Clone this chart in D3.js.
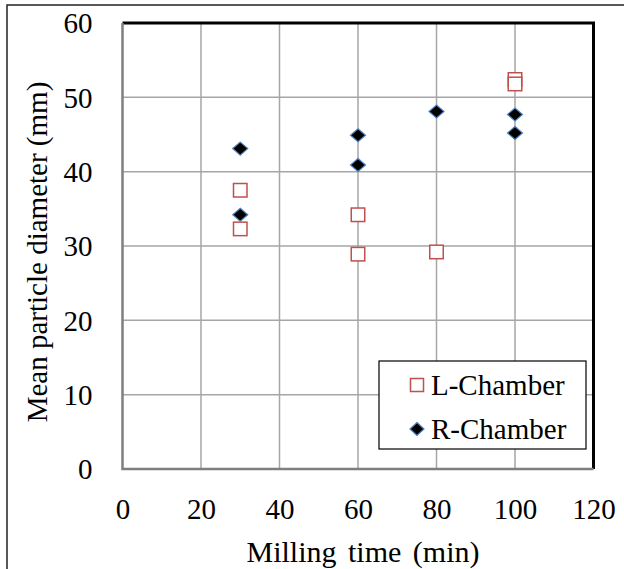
<!DOCTYPE html>
<html>
<head>
<meta charset="utf-8">
<script src="https://cdn.jsdelivr.net/npm/d3@7"></script>
<style>
html,body{margin:0;padding:0;background:#fff;}
svg{display:block;}
text{font-family:"Liberation Serif","Times New Roman",serif;fill:#000;}
</style>
</head>
<body>
<svg id="chart" width="624" height="569"></svg>
<script>
const xTicks = [0, 20, 40, 60, 80, 100, 120];
const yTicks = [0, 10, 20, 30, 40, 50, 60];
const lTime = [30, 30, 60, 60, 80, 100, 100];
const lDiameter = [37.5, 32.3, 34.2, 28.9, 29.2, 52.4, 51.8];
const rTime = [30, 30, 60, 60, 80, 100, 100];
const rDiameter = [43.1, 34.2, 44.9, 40.9, 48.1, 47.7, 45.2];
const seriesNames = ["L-Chamber", "R-Chamber"];
const xTitle = "Milling time (min)";
const yTitle = "Mean particle diameter (mm)";

(function () {
const svg = d3.select("#chart");
const pL = 122.5, pR = 593.5, pT = 23, pB = 469;
const fs = 29;

const x = d3.scaleLinear().domain([0, 120]).range([pL, pR]);
const y = d3.scaleLinear().domain([0, 60]).range([pB, pT]);

// outer border
svg.append("rect").attr("x", 7).attr("y", 5).attr("width", 640).attr("height", 600)
  .attr("fill", "none").attr("stroke", "#222").attr("stroke-width", 1.5);

// grid
svg.append("g").selectAll("line").data(xTicks.filter(d => d > 0 && d < 120)).join("line")
  .attr("x1", d => x(d)).attr("x2", d => x(d)).attr("y1", pT).attr("y2", pB)
  .attr("stroke", "#a6a6a6").attr("stroke-width", 1.5);
svg.append("g").selectAll("line").data(yTicks.filter(d => d > 0 && d < 60)).join("line")
  .attr("x1", pL).attr("x2", pR).attr("y1", d => y(d)).attr("y2", d => y(d))
  .attr("stroke", "#a6a6a6").attr("stroke-width", 1.5);

// top & right border (black)
svg.append("path").attr("d", `M${pL},${pT}H${pR}V${pB}`)
  .attr("fill", "none").attr("stroke", "#000").attr("stroke-width", 3);

// axes (gray)
svg.append("path").attr("d", `M${pL},${pT}V${pB}H${pR}`)
  .attr("fill", "none").attr("stroke", "#7f7f7f").attr("stroke-width", 2.5);

// tick labels via d3 axes
const xAxis = svg.append("g").attr("transform", `translate(0,${pB})`)
  .call(d3.axisBottom(x).tickValues(xTicks).tickSize(0).tickPadding(0));
xAxis.select(".domain").remove();
xAxis.selectAll("text").attr("font-size", fs).attr("dy", null).attr("y", 50)
  .style("font-family", '"Liberation Serif",serif');

const yAxis = svg.append("g").attr("transform", `translate(${pL},0)`)
  .call(d3.axisLeft(y).tickValues(yTicks).tickSize(0).tickPadding(0));
yAxis.select(".domain").remove();
yAxis.selectAll("text").attr("font-size", fs).attr("x", -30).attr("dy", "0.34em")
  .style("font-family", '"Liberation Serif",serif');

// titles
svg.append("text").attr("x", 363).attr("y", 562).attr("text-anchor", "middle")
  .attr("font-size", 30).style("word-spacing", "4px").text(xTitle);
svg.append("text").attr("transform", `translate(47,252) rotate(-90)`).attr("text-anchor", "middle")
  .attr("font-size", fs).text(yTitle);

// markers
function square(g, cx, cy, s) {
  g.append("rect").attr("x", cx - s / 2).attr("y", cy - s / 2).attr("width", s).attr("height", s)
    .attr("fill", "#fff").attr("stroke", "#c0504d").attr("stroke-width", 1.5);
}
function diamond(g, cx, cy, w, h) {
  g.append("path").attr("d", `M${cx},${cy - h / 2}L${cx + w / 2},${cy}L${cx},${cy + h / 2}L${cx - w / 2},${cy}Z`)
    .attr("fill", "#000").attr("stroke", "#4f81bd").attr("stroke-width", 1.2);
}
const gL = svg.append("g");
lTime.forEach((t, i) => square(gL, x(t), y(lDiameter[i]), 13.5));
const gR = svg.append("g");
rTime.forEach((t, i) => diamond(gR, x(t), y(rDiameter[i]), 15, 13));

// legend
const lg = svg.append("g");
lg.append("rect").attr("x", 379).attr("y", 361).attr("width", 207).attr("height", 88)
  .attr("fill", "#fff").attr("stroke", "#000").attr("stroke-width", 1.2);
square(lg, 417, 385, 13);
diamond(lg, 417, 429, 14, 13);
lg.append("text").attr("x", 431).attr("y", 385).attr("dy", "0.35em").attr("font-size", fs).text(seriesNames[0]);
lg.append("text").attr("x", 431).attr("y", 429).attr("dy", "0.35em").attr("font-size", fs).text(seriesNames[1]);
})();
</script>
</body>
</html>
